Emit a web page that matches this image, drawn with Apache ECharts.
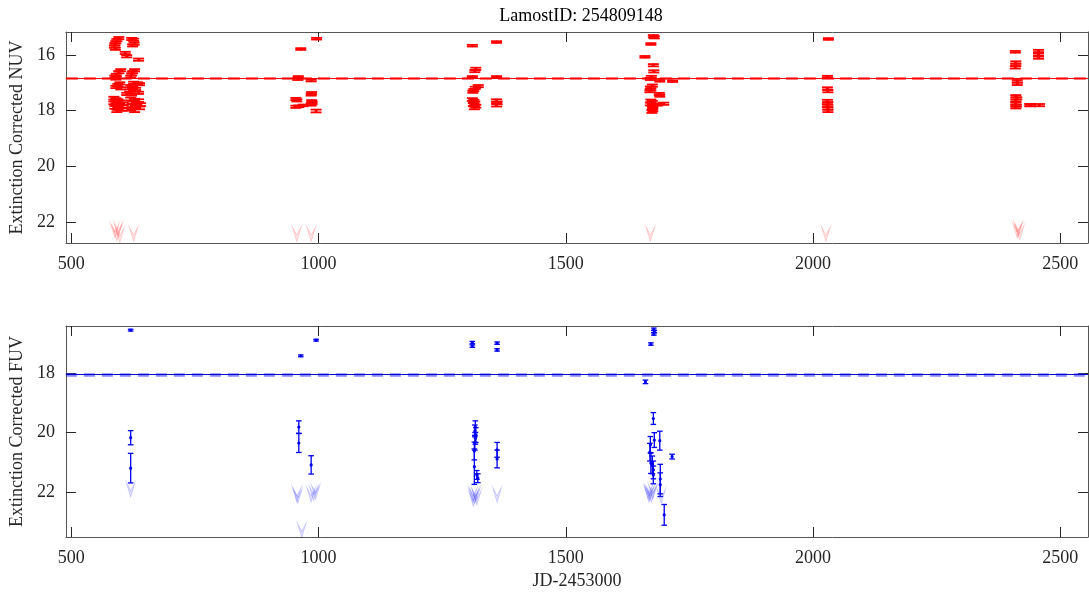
<!DOCTYPE html>
<html>
<head>
<meta charset="utf-8">
<script src="https://cdn.jsdelivr.net/npm/echarts@6/dist/echarts.min.js"></script>
<style>html,body{margin:0;padding:0;background:#fff}#c{width:1089px;height:596px}</style>
</head>
<body>
<div id="c"></div>
<script>
// ---------- DATA ----------
const titleText = 'LamostID: 254809148';
const xTicks = [500, 1000, 1500, 2000, 2500];
const nuvTicks = [16, 18, 20, 22];
const fuvTicks = [18, 20, 22];
const nuvMean = 16.82;
const fuvMean = 18.03;

// NUV detections [JD-2453000, mag, err]
const nuvPoints = [
  [596,15.40,0.04],[592,15.47,0.04],[590,15.55,0.04],[588,15.62,0.04],[587,15.70,0.04],[589,15.78,0.04],
  [600,16.55,0.04],[596,16.62,0.04],[591,16.72,0.04],[588,16.78,0.04],[590,16.85,0.04],
  [598,17.02,0.04],[594,17.08,0.04],[590,17.15,0.04],[600,17.20,0.04],
  [586,17.55,0.05],[590,17.60,0.05],[594,17.64,0.05],[598,17.68,0.05],[586,17.72,0.05],[590,17.78,0.05],
  [596,17.82,0.05],[600,17.86,0.05],[605,17.75,0.05],[588,17.88,0.05],[594,17.92,0.05],[592,18.00,0.05],[602,17.95,0.05],
  [622,15.43,0.04],[626,15.46,0.04],[627,15.60,0.04],[624,15.66,0.04],[609,15.93,0.04],[612,16.05,0.04],[636,16.17,0.04],
  [628,16.55,0.04],[624,16.62,0.04],[622,16.70,0.04],[620,16.78,0.04],
  [626,17.00,0.04],[634,17.02,0.04],[638,17.05,0.04],[620,17.12,0.04],[624,17.18,0.04],[630,17.22,0.04],[618,17.28,0.04],
  [636,17.36,0.04],[622,17.42,0.04],[612,17.40,0.04],
  [620,17.58,0.05],[628,17.62,0.05],[636,17.64,0.05],[624,17.70,0.05],[632,17.75,0.05],[640,17.78,0.05],[622,17.82,0.05],
  [630,17.85,0.05],[638,17.90,0.05],[615,17.95,0.05],[628,18.00,0.05],
  [996,15.42,0.03],[964,15.79,0.03],[959,16.80,0.04],[958,16.86,0.04],[985,16.92,0.03],[986,17.37,0.04],[985,17.42,0.04],
  [954,17.58,0.04],[956,17.63,0.04],[986,17.66,0.04],[987,17.72,0.04],[985,17.78,0.04],[954,17.86,0.04],[960,17.84,0.03],
  [969,17.81,0.03],[995,18.01,0.05],
  [1311,15.67,0.03],[1360,15.54,0.03],[1318,16.50,0.04],[1316,16.58,0.04],[1311,16.79,0.03],[1360,16.79,0.03],
  [1323,17.12,0.04],[1317,17.18,0.04],[1314,17.26,0.04],[1312,17.32,0.04],[1314,17.66,0.05],[1316,17.72,0.05],
  [1313,17.78,0.05],[1318,17.84,0.05],[1315,17.90,0.05],[1360,17.64,0.05],[1361,17.72,0.05],[1360,17.80,0.05],[1311,17.60,0.05],
  [1677,15.33,0.04],[1679,15.37,0.04],[1672,15.61,0.03],[1660,16.07,0.03],[1677,16.37,0.04],[1678,16.59,0.04],
  [1673,16.79,0.04],[1671,16.86,0.04],[1690,16.93,0.03],[1716,16.94,0.03],[1675,17.10,0.04],[1671,17.17,0.04],
  [1672,17.24,0.04],[1670,17.30,0.04],[1689,17.40,0.04],[1690,17.46,0.04],[1672,17.65,0.05],[1675,17.70,0.05],
  [1671,17.76,0.05],[1698,17.75,0.04],[1676,17.82,0.05],[1675,17.90,0.05],[1676,17.97,0.05],[1674,18.03,0.05],[1685,17.78,0.04],
  [2031,15.43,0.03],[2029,16.78,0.03],[2029,17.20,0.04],[2030,17.30,0.04],[2029,17.66,0.05],[2030,17.74,0.05],
  [2029,17.82,0.05],[2030,17.92,0.05],[2030,18.00,0.05],
  [2409,15.89,0.03],[2410,16.27,0.04],[2410,16.36,0.04],[2409,16.45,0.04],[2456,15.86,0.04],[2456,15.98,0.04],
  [2456,16.10,0.04],[2413,16.94,0.04],[2413,17.04,0.04],[2410,17.48,0.04],[2412,17.56,0.04],[2410,17.64,0.04],
  [2410,17.74,0.04],[2411,17.82,0.04],[2410,17.88,0.04],[2438,17.80,0.04],[2440,17.80,0.04],[2458,17.80,0.04]
];
// NUV upper limits [JD-2453000, mag]
const nuvLimits = [
  [588,22.30],[592,22.40],[595,22.25],[598,22.45],[626,22.42],
  [956,22.42],[985,22.42],[1671,22.42],[2026,22.42],
  [2413,22.30],[2418,22.36],[2415,22.25]
];
// FUV detections [JD-2453000, mag, err]
const fuvPoints = [
  [620,16.53,0.03],[620,20.17,0.24],[620,21.20,0.50],
  [995,16.87,0.03],[964,17.40,0.03],[960,19.81,0.21],[960,20.35,0.32],[985,21.09,0.31],
  [1311,16.95,0.04],[1311,17.07,0.04],[1361,16.97,0.04],[1361,17.20,0.04],
  [1317,19.80,0.20],[1316,19.94,0.20],[1318,20.08,0.25],[1317,20.19,0.20],[1316,20.34,0.25],[1315,20.62,0.30],
  [1315,21.15,0.60],[1320,21.43,0.15],[1322,21.54,0.15],[1361,20.58,0.25],[1361,20.89,0.30],
  [1678,16.50,0.04],[1679,16.58,0.04],[1678,16.66,0.04],[1672,17.00,0.04],[1661,18.28,0.06],
  [1677,19.52,0.20],[1679,20.25,0.25],[1690,20.27,0.32],[1671,20.41,0.28],[1670,20.66,0.30],[1672,21.03,0.35],
  [1675,21.09,0.30],[1677,21.26,0.30],[1677,21.43,0.30],[1715,20.81,0.08],[1691,21.57,0.50],[1691,21.76,0.40],
  [1699,22.78,0.35]
];
// FUV upper limits [JD-2453000, mag]
const fuvLimits = [
  [620,21.93],[956,22.10],[958,22.15],[985,22.10],[990,22.05],[994,22.00],[966,23.30],
  [1312,22.10],[1315,22.15],[1318,22.10],[1320,22.20],[1313,22.25],[1361,22.10],
  [1667,22.00],[1670,22.05],[1673,22.10],[1676,22.00],[1668,22.10],[1693,22.15]
];

// ---------- CHART ----------
const font = 'Liberation Serif';
const xMin = 489, xMax = 2556;
const nuvMin = 15.18, nuvMax = 22.74;
const fuvMin = 16.39, fuvMax = 23.53;
const frame = '#555555', txt = '#262626';
const vPath = 'path://M0,0 L5,14 L10,0 L5,8 Z';

function errRender(capHalf, color, lw, dot) {
  return function (params, api) {
    const x = api.value(0), y = api.value(1), e = api.value(2);
    const p = api.coord([x, y]);
    const a = api.coord([x, y - e]);
    const b = api.coord([x, y + e]);
    const st = { stroke: color, lineWidth: lw };
    return { type: 'group', children: [
      { type: 'line', shape: { x1: p[0], y1: a[1], x2: p[0], y2: b[1] }, style: st },
      { type: 'line', shape: { x1: p[0] - capHalf, y1: a[1], x2: p[0] + capHalf, y2: a[1] }, style: st },
      { type: 'line', shape: { x1: p[0] - capHalf, y1: b[1], x2: p[0] + capHalf, y2: b[1] }, style: st },
      { type: 'circle', shape: { cx: p[0], cy: p[1], r: dot }, style: { fill: color } }
    ]};
  };
}

const plain = v => String(v);

function xAx(gi, showLabels, pos, name) {
  return {
    type: 'value', gridIndex: gi, position: pos, min: xMin, max: xMax,
    name: name || '', nameLocation: 'middle', nameGap: 35,
    nameTextStyle: { fontFamily: font, fontSize: 18, color: txt },
    axisLine: { show: true, onZero: false, lineStyle: { color: frame, width: 1 } },
    axisTick: { show: true, inside: true, length: 10, customValues: xTicks, lineStyle: { color: txt } },
    axisLabel: { show: showLabels, customValues: xTicks, formatter: plain, fontFamily: font, fontSize: 18, color: txt, margin: 12 },
    splitLine: { show: false }
  };
}
function yAx(gi, mn, mx, ticks, showLabels, pos, name) {
  return {
    type: 'value', gridIndex: gi, position: pos, min: mn, max: mx, inverse: true,
    name: name || '', nameLocation: 'middle', nameGap: 37, nameRotate: 90,
    nameTextStyle: { fontFamily: font, fontSize: 18, color: txt },
    axisLine: { show: true, onZero: false, lineStyle: { color: frame, width: 1 } },
    axisTick: { show: true, inside: true, length: 10, customValues: ticks, lineStyle: { color: txt } },
    axisLabel: { show: showLabels, customValues: ticks, formatter: plain, fontFamily: font, fontSize: 18, color: txt, margin: 11 },
    splitLine: { show: false }
  };
}

const chart = echarts.init(document.getElementById('c'), null, { renderer: 'canvas' });
chart.setOption({
  animation: false,
  backgroundColor: '#ffffff',
  title: { text: titleText, left: 576, top: 2, textAlign: 'center',
    textStyle: { fontFamily: font, fontSize: 18, fontWeight: 'normal', color: '#000' } },
  grid: [
    { left: 64, top: 32, width: 1024, height: 211 },
    { left: 64, top: 326, width: 1024, height: 211 }
  ],
  xAxis: [
    xAx(0, true, 'bottom'), xAx(0, false, 'top'),
    xAx(1, true, 'bottom', 'JD-2453000'), xAx(1, false, 'top')
  ],
  yAxis: [
    yAx(0, nuvMin, nuvMax, nuvTicks, true, 'left', 'Extinction Corrected NUV'),
    yAx(0, nuvMin, nuvMax, nuvTicks, false, 'right'),
    yAx(1, fuvMin, fuvMax, fuvTicks, true, 'left', 'Extinction Corrected FUV'),
    yAx(1, fuvMin, fuvMax, fuvTicks, false, 'right')
  ],
  series: [
    { type: 'scatter', xAxisIndex: 0, yAxisIndex: 0, data: nuvLimits, symbol: vPath, symbolSize: [9, 15],
      itemStyle: { color: 'rgba(255,80,80,0.18)', borderColor: 'rgba(255,0,0,0.25)', borderWidth: 0.8 }, silent: true,
      markLine: { silent: true, symbol: 'none', label: { show: false },
        lineStyle: { color: 'rgba(255,0,0,0.55)', width: 3, type: [12, 6] }, data: [{ yAxis: nuvMean }] } },
    { type: 'custom', xAxisIndex: 0, yAxisIndex: 0, data: nuvPoints, encode: { x: 0, y: 1 },
      renderItem: errRender(5.5, '#ff0000', 1.8, 1.6), silent: true,
      markLine: { silent: true, symbol: 'none', label: { show: false },
        lineStyle: { color: '#ff0000', width: 1.2, type: 'solid' }, data: [{ yAxis: nuvMean }] } },
    { type: 'scatter', xAxisIndex: 2, yAxisIndex: 2, data: fuvLimits, symbol: vPath, symbolSize: [9, 15],
      itemStyle: { color: 'rgba(90,90,255,0.25)', borderColor: 'rgba(60,60,255,0.3)', borderWidth: 0.8 }, silent: true,
      markLine: { silent: true, symbol: 'none', label: { show: false },
        lineStyle: { color: 'rgba(60,60,255,0.6)', width: 3.5, type: [11, 7] }, data: [{ yAxis: fuvMean }] } },
    { type: 'custom', xAxisIndex: 2, yAxisIndex: 2, data: fuvPoints, encode: { x: 0, y: 1 },
      renderItem: errRender(2.8, '#0000ee', 1.3, 1.6), silent: true,
      markLine: { silent: true, symbol: 'none', label: { show: false },
        lineStyle: { color: '#0000cc', width: 1.2, type: 'solid' }, data: [{ yAxis: fuvMean }] } }
  ]
});
</script>
</body>
</html>
